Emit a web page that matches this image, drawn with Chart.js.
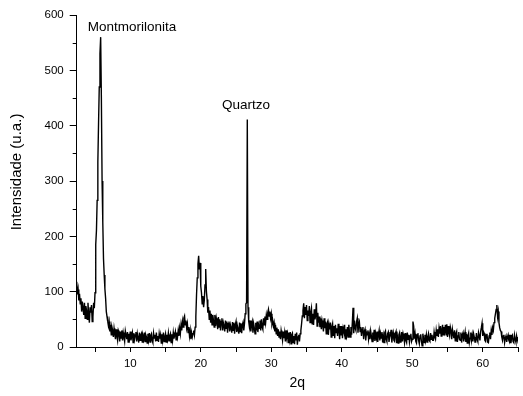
<!DOCTYPE html>
<html>
<head>
<meta charset="utf-8">
<script src="https://cdn.jsdelivr.net/npm/chart.js@4/dist/chart.umd.min.js"></script>
<style>
  body { margin: 0; background: #fff; }
  #wrap { width: 523px; height: 396px; }
</style>
</head>
<body>
<div id="wrap"><canvas id="xrd"></canvas></div>
<script>
const twoTheta = [
  2.4, 2.5, 2.6, 2.7, 2.8, 2.9,
  3.0, 3.1, 3.2, 3.3, 3.4, 3.5, 3.6, 3.7, 3.8, 3.9,
  4.0, 4.1, 4.2, 4.3, 4.4, 4.5, 4.6, 4.7, 4.8, 4.9,
  5.0, 5.1, 5.2, 5.3, 5.4, 5.5, 5.6, 5.7, 5.8, 5.9,
  6.0, 6.1, 6.2, 6.3, 6.4, 6.5, 6.6, 6.7, 6.8, 6.9,
  7.0, 7.1, 7.2, 7.3, 7.4, 7.5, 7.6, 7.7, 7.8, 7.9,
  8.0, 8.1, 8.2, 8.3, 8.4, 8.5, 8.6, 8.7, 8.8, 8.9,
  9.0, 9.1, 9.2, 9.3, 9.4, 9.5, 9.6, 9.7, 9.8, 9.9,
  10.0, 10.1, 10.2, 10.3, 10.4, 10.5, 10.6, 10.7, 10.8, 10.9,
  11.0, 11.1, 11.2, 11.3, 11.4, 11.5, 11.6, 11.7, 11.8, 11.9,
  12.0, 12.1, 12.2, 12.3, 12.4, 12.5, 12.6, 12.7, 12.8, 12.9,
  13.0, 13.1, 13.2, 13.3, 13.4, 13.5, 13.6, 13.7, 13.8, 13.9,
  14.0, 14.1, 14.2, 14.3, 14.4, 14.5, 14.6, 14.7, 14.8, 14.9,
  15.0, 15.1, 15.2, 15.3, 15.4, 15.5, 15.6, 15.7, 15.8, 15.9,
  16.0, 16.1, 16.2, 16.3, 16.4, 16.5, 16.6, 16.7, 16.8, 16.9,
  17.0, 17.1, 17.2, 17.3, 17.4, 17.5, 17.6, 17.7, 17.8, 17.9,
  18.0, 18.1, 18.2, 18.3, 18.4, 18.5, 18.6, 18.7, 18.8, 18.9,
  19.0, 19.1, 19.2, 19.3, 19.4, 19.5, 19.6, 19.7, 19.8, 19.9,
  20.0, 20.1, 20.2, 20.3, 20.4, 20.5, 20.6, 20.7, 20.8, 20.9,
  21.0, 21.1, 21.2, 21.3, 21.4, 21.5, 21.6, 21.7, 21.8, 21.9,
  22.0, 22.1, 22.2, 22.3, 22.4, 22.5, 22.6, 22.7, 22.8, 22.9,
  23.0, 23.1, 23.2, 23.3, 23.4, 23.5, 23.6, 23.7, 23.8, 23.9,
  24.0, 24.1, 24.2, 24.3, 24.4, 24.5, 24.6, 24.7, 24.8, 24.9,
  25.0, 25.1, 25.2, 25.3, 25.4, 25.5, 25.6, 25.7, 25.8, 25.9,
  26.0, 26.1, 26.2, 26.3, 26.4, 26.5, 26.6, 26.7, 26.8, 26.9,
  27.0, 27.1, 27.2, 27.3, 27.4, 27.5, 27.6, 27.7, 27.8, 27.9,
  28.0, 28.1, 28.2, 28.3, 28.4, 28.5, 28.6, 28.7, 28.8, 28.9,
  29.0, 29.1, 29.2, 29.3, 29.4, 29.5, 29.6, 29.7, 29.8, 29.9,
  30.0, 30.1, 30.2, 30.3, 30.4, 30.5, 30.6, 30.7, 30.8, 30.9,
  31.0, 31.1, 31.2, 31.3, 31.4, 31.5, 31.6, 31.7, 31.8, 31.9,
  32.0, 32.1, 32.2, 32.3, 32.4, 32.5, 32.6, 32.7, 32.8, 32.9,
  33.0, 33.1, 33.2, 33.3, 33.4, 33.5, 33.6, 33.7, 33.8, 33.9,
  34.0, 34.1, 34.2, 34.3, 34.4, 34.5, 34.6, 34.7, 34.8, 34.9,
  35.0, 35.1, 35.2, 35.3, 35.4, 35.5, 35.6, 35.7, 35.8, 35.9,
  36.0, 36.1, 36.2, 36.3, 36.4, 36.5, 36.6, 36.7, 36.8, 36.9,
  37.0, 37.1, 37.2, 37.3, 37.4, 37.5, 37.6, 37.7, 37.8, 37.9,
  38.0, 38.1, 38.2, 38.3, 38.4, 38.5, 38.6, 38.7, 38.8, 38.9,
  39.0, 39.1, 39.2, 39.3, 39.4, 39.5, 39.6, 39.7, 39.8, 39.9,
  40.0, 40.1, 40.2, 40.3, 40.4, 40.5, 40.6, 40.7, 40.8, 40.9,
  41.0, 41.1, 41.2, 41.3, 41.4, 41.5, 41.6, 41.7, 41.8, 41.9,
  42.0, 42.1, 42.2, 42.3, 42.4, 42.5, 42.6, 42.7, 42.8, 42.9,
  43.0, 43.1, 43.2, 43.3, 43.4, 43.5, 43.6, 43.7, 43.8, 43.9,
  44.0, 44.1, 44.2, 44.3, 44.4, 44.5, 44.6, 44.7, 44.8, 44.9,
  45.0, 45.1, 45.2, 45.3, 45.4, 45.5, 45.6, 45.7, 45.8, 45.9,
  46.0, 46.1, 46.2, 46.3, 46.4, 46.5, 46.6, 46.7, 46.8, 46.9,
  47.0, 47.1, 47.2, 47.3, 47.4, 47.5, 47.6, 47.7, 47.8, 47.9,
  48.0, 48.1, 48.2, 48.3, 48.4, 48.5, 48.6, 48.7, 48.8, 48.9,
  49.0, 49.1, 49.2, 49.3, 49.4, 49.5, 49.6, 49.7, 49.8, 49.9,
  50.0, 50.1, 50.2, 50.3, 50.4, 50.5, 50.6, 50.7, 50.8, 50.9,
  51.0, 51.1, 51.2, 51.3, 51.4, 51.5, 51.6, 51.7, 51.8, 51.9,
  52.0, 52.1, 52.2, 52.3, 52.4, 52.5, 52.6, 52.7, 52.8, 52.9,
  53.0, 53.1, 53.2, 53.3, 53.4, 53.5, 53.6, 53.7, 53.8, 53.9,
  54.0, 54.1, 54.2, 54.3, 54.4, 54.5, 54.6, 54.7, 54.8, 54.9,
  55.0, 55.1, 55.2, 55.3, 55.4, 55.5, 55.6, 55.7, 55.8, 55.9,
  56.0, 56.1, 56.2, 56.3, 56.4, 56.5, 56.6, 56.7, 56.8, 56.9,
  57.0, 57.1, 57.2, 57.3, 57.4, 57.5, 57.6, 57.7, 57.8, 57.9,
  58.0, 58.1, 58.2, 58.3, 58.4, 58.5, 58.6, 58.7, 58.8, 58.9,
  59.0, 59.1, 59.2, 59.3, 59.4, 59.5, 59.6, 59.7, 59.8, 59.9,
  60.0, 60.1, 60.2, 60.3, 60.4, 60.5, 60.6, 60.7, 60.8, 60.9,
  61.0, 61.1, 61.2, 61.3, 61.4, 61.5, 61.6, 61.7, 61.8, 61.9,
  62.0, 62.1, 62.2, 62.3, 62.4, 62.5, 62.6, 62.7, 62.8, 62.9,
  63.0, 63.1, 63.2, 63.3, 63.4, 63.5, 63.6, 63.7, 63.8, 63.9,
  64.0, 64.1, 64.2, 64.3, 64.4, 64.5, 64.6, 64.7, 64.8, 64.9,
  65.0
]
const intensity = [
  118, 95, 104, 84, 96, 78,
  88, 64, 82, 70, 58, 80, 52, 74, 66, 50,
  80, 58, 44, 72, 62, 76, 46, 54, 80, 70,
  98, 185, 210, 265, 335, 405, 470, 530, 560, 450,
  300, 226, 160, 130, 105, 88, 64, 55, 46, 38,
  46, 28, 40, 22, 36, 30, 18, 34, 24, 14,
  32, 20, 12, 30, 26, 10, 28, 16, 30, 12,
  26, 18, 10, 29, 22, 14, 27, 9, 24, 16,
  28, 12, 20, 26, 8, 25, 14, 22, 27, 10,
  24, 16, 8, 26, 12, 22, 25, 9, 20, 14,
  26, 10, 22, 18, 7, 24, 13, 25, 9, 21,
  24, 12, 8, 25, 16, 22, 10, 26, 12, 20,
  9, 24, 15, 22, 7, 23, 12, 26, 10, 18,
  24, 9, 22, 14, 25, 11, 20, 24, 8, 23,
  12, 26, 15, 22, 28, 13, 26, 18, 30, 20,
  34, 24, 40, 30, 46, 36, 52, 56, 40, 48,
  34, 42, 26, 36, 20, 30, 14, 26, 18, 24,
  30, 22, 36, 55, 95, 125, 150, 165, 140, 152,
  110, 98, 78, 92, 72, 84, 112, 141, 100, 86,
  62, 72, 50, 66, 44, 60, 40, 58, 48, 36,
  58, 38, 52, 44, 32, 54, 36, 50, 30, 46,
  52, 30, 44, 38, 28, 48, 34, 46, 26, 42,
  46, 28, 40, 34, 26, 45, 30, 44, 24, 40,
  46, 27, 38, 32, 24, 44, 28, 43, 25, 40,
  45, 30, 42, 60, 78, 80, 411, 72, 46, 36,
  48, 28, 40, 46, 26, 42, 34, 24, 44, 30,
  46, 27, 40, 34, 48, 30, 50, 36, 32, 52,
  40, 55, 44, 58, 50, 62, 68, 56, 64, 52,
  60, 42, 48, 38, 44, 28, 40, 24, 35, 20,
  32, 18, 28, 14, 30, 22, 12, 28, 16, 26,
  10, 30, 18, 24, 8, 26, 14, 27, 6, 22,
  25, 8, 20, 5, 24, 12, 26, 4, 18, 22,
  10, 24, 30, 42, 56, 66, 79, 52, 72, 58,
  76, 48, 66, 56, 74, 44, 62, 70, 42, 60,
  40, 68, 50, 58, 79, 38, 62, 44, 55, 36,
  52, 32, 48, 40, 28, 52, 34, 46, 24, 42,
  46, 22, 40, 32, 44, 18, 36, 42, 20, 38,
  16, 40, 26, 34, 20, 42, 30, 14, 38, 22,
  38, 16, 34, 28, 40, 15, 32, 22, 36, 18,
  40, 26, 18, 36, 22, 44, 71, 25, 48, 34,
  30, 46, 52, 26, 40, 45, 28, 36, 20, 32,
  36, 14, 28, 32, 12, 26, 22, 30, 14, 24,
  14, 29, 20, 10, 26, 18, 31, 11, 24, 16,
  28, 9, 22, 30, 12, 24, 16, 27, 8, 20,
  8, 26, 29, 14, 10, 24, 27, 9, 18, 22,
  31, 8, 20, 26, 12, 10, 24, 28, 7, 18,
  7, 22, 26, 9, 16, 27, 10, 24, 18, 8,
  25, 12, 8, 26, 14, 22, 9, 20, 24, 10,
  14, 46, 38, 15, 24, 10, 7, 22, 25, 12,
  6, 20, 23, 10, 2, 24, 16, 8, 22, 12,
  22, 9, 18, 24, 12, 10, 25, 14, 22, 12,
  12, 27, 18, 14, 30, 20, 32, 18, 34, 24,
  38, 20, 30, 40, 22, 36, 28, 40, 22, 41,
  18, 38, 26, 20, 36, 30, 14, 32, 24, 16,
  30, 11, 24, 28, 9, 20, 27, 14, 12, 26,
  8, 22, 26, 10, 18, 27, 9, 24, 7, 20,
  25, 8, 16, 26, 12, 22, 10, 24, 18, 9,
  9, 25, 14, 10, 26, 20, 12, 28, 35, 43,
  20, 28, 25, 12, 10, 22, 24, 9, 8, 20,
  26, 14, 30, 22, 35, 30, 44, 52, 60, 68,
  76, 55, 64, 44, 35, 30, 28, 18, 12, 20,
  22, 8, 16, 20, 9, 18, 22, 12, 9, 22,
  7, 18, 21, 10, 8, 22, 14, 9, 20, 12,
  18
]

// phase labels and where they sit (data units)
const phaseNames = ['Montmorilonita', 'Quartzo']
const phaseAt = [[10.25, 578], [26.4, 437]]

const yMinorTicks = [50, 150, 250, 350, 450, 550]

Chart.defaults.font.family = "'Liberation Sans', Arial, sans-serif"
Chart.defaults.color = '#000'

let points = twoTheta.map((x, i) => ({ x: x, y: intensity[i] }))

const extras = {
    id: 'extras',
    afterDraw(chart) {
        let ctx = chart.ctx
        let xs = chart.scales.x, ys = chart.scales.y
        ctx.save()
        // short minor ticks on the y axis
        ctx.strokeStyle = '#000'
        ctx.lineWidth = 1
        for (let v of yMinorTicks) {
            let py = Math.round(ys.getPixelForValue(v)) + 0.5
            ctx.beginPath()
            ctx.moveTo(chart.chartArea.left - 4, py)
            ctx.lineTo(chart.chartArea.left, py)
            ctx.stroke()
        }
        // peak names
        ctx.fillStyle = '#000'
        ctx.font = "13.5px 'Liberation Sans', Arial, sans-serif"
        ctx.textAlign = 'center'
        ctx.textBaseline = 'middle'
        phaseNames.forEach((name, i) => {
            ctx.fillText(name, xs.getPixelForValue(phaseAt[i][0]), ys.getPixelForValue(phaseAt[i][1]))
        })
        // y axis title, sits a bit above the axis middle like the original
        ctx.translate(17, 172)
        ctx.rotate(-Math.PI / 2)
        ctx.font = "15px 'Liberation Sans', Arial, sans-serif"
        ctx.fillText('Intensidade (u.a.)', 0, 0)
        ctx.restore()
    }
}

new Chart(document.getElementById('xrd'), {
    type: 'line',
    data: {
        datasets: [{
            data: points,
            borderColor: '#000',
            borderWidth: 1.4,
            pointRadius: 0,
            tension: 0,
            fill: false
        }]
    },
    plugins: [extras],
    options: {
        responsive: true,
        maintainAspectRatio: false,
        animation: false,
        layout: { padding: { top: 15, right: 2, left: 0, bottom: 0 } },
        plugins: {
            legend: { display: false },
            tooltip: { enabled: false }
        },
        scales: {
            x: {
                type: 'linear',
                min: 2.4,
                max: 65,
                afterFit: (s) => { s.height = 49 },
                grid: { drawOnChartArea: false, tickLength: 5, color: '#000' },
                border: { color: '#000', width: 1 },
                ticks: {
                    stepSize: 5,
                    includeBounds: false,
                    autoSkip: false,
                    maxRotation: 0,
                    padding: 5,
                    font: { size: 11.5 },
                    callback: (v) => (v % 10 === 0 ? v : '')
                },
                title: { display: true, text: '2q', font: { size: 14 }, padding: { top: 0, bottom: 4 } }
            },
            y: {
                min: 0,
                max: 600,
                afterFit: (s) => { s.width = 76.7 },
                grid: { drawOnChartArea: false, tickLength: 7, color: '#000' },
                border: { color: '#000', width: 1 },
                ticks: { stepSize: 100, padding: 6, font: { size: 11.5 } }
            }
        }
    }
})
</script>
</body>
</html>
